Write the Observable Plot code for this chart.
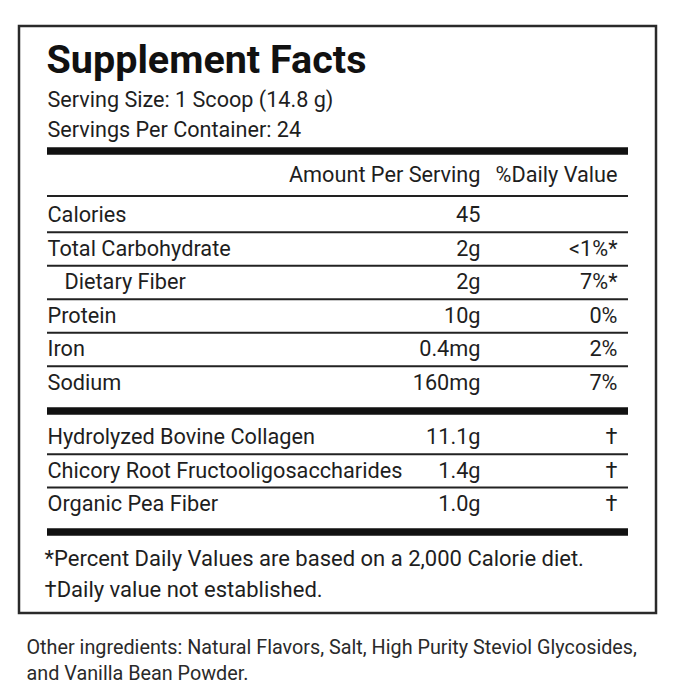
<!DOCTYPE html>
<html><head><meta charset="utf-8">
<script src="https://cdn.jsdelivr.net/npm/d3@7"></script>
<script src="https://cdn.jsdelivr.net/npm/@observablehq/plot@0.6"></script>
<style>body{margin:0;background:#fff}</style>
</head><body><div id="chart"></div>
<script>
// ---- data ----
const title = "Supplement Facts";
const headerLines = ["Serving Size: 1 Scoop (14.8 g)", "Servings Per Container: 24"];
const columnHeaders = ["Amount Per Serving", "%Daily Value"];
const nutrients = ["Calories", "Total Carbohydrate", "Dietary Fiber", "Protein", "Iron", "Sodium"];
const nutrientAmounts = ["45", "2g", "2g", "10g", "0.4mg", "160mg"];
const nutrientDV = ["", "<1%*", "7%*", "0%", "2%", "7%"];
const nutrientIndent = [0, 0, 1, 0, 0, 0];
const blendItems = ["Hydrolyzed Bovine Collagen", "Chicory Root Fructooligosaccharides", "Organic Pea Fiber"];
const blendAmounts = ["11.1g", "1.4g", "1.0g"];
const blendDV = ["†", "†", "†"];
const footnotes = ["*Percent Daily Values are based on a 2,000 Calorie diet.", "†Daily value not established."];
const otherIngredients = ["Other ingredients: Natural Flavors, Salt, High Purity Steviol Glycosides,", "and Vanilla Bean Powder."];

// ---- layout ----
const L = {
  boxX1: 19, boxX2: 656, boxY1: 26, boxY2: 613,
  left: 47, right: 628, indent: 17, amountX: 480, dvX: 617,
  titleY: 60, headerY0: 100, headerStep: 30, colHeadY: 175, colRuleY: 195.5,
  rowY0: 215, rowStep: 33.5, blendY0: 437, blendStep: 33.3,
  thickY: [150.5, 410.5, 531.5], footY0: 558, footStep: 31,
  otherX: 26, otherY0: 647, otherStep: 26
};
const ink = "#1e1e1e";
const font = "Roboto";
const body = 21.7;

const rows = nutrients.map((name, i) => ({
  name, amount: nutrientAmounts[i], dv: nutrientDV[i],
  x: L.left + nutrientIndent[i] * L.indent, y: L.rowY0 + i * L.rowStep
}));
const rowRules = rows.slice(0, -1).map(r => ({y: r.y + L.rowStep / 2}));
const blend = blendItems.map((name, i) => ({
  name, amount: blendAmounts[i], dv: blendDV[i], x: L.left, y: L.blendY0 + i * L.blendStep
}));
const blendRules = blend.slice(0, -1).map(r => ({y: r.y + L.blendStep / 2}));
const header = headerLines.map((t, i) => ({t, y: L.headerY0 + i * L.headerStep}));
const feet = footnotes.map((t, i) => ({t, y: L.footY0 + i * L.footStep}));
const other = otherIngredients.map((t, i) => ({t, y: L.otherY0 + i * L.otherStep}));

const txt = (data, opts) => Plot.text(data, {fontFamily: font, fill: ink, fontSize: body, lineAnchor: "middle", ...opts});

const chart = Plot.plot({
  width: 680, height: 699, margin: 0,
  x: {domain: [0, 680], range: [0, 680], axis: null},
  y: {domain: [0, 699], range: [0, 699], axis: null},
  marks: [
    Plot.rect([L], {x1: "boxX1", x2: "boxX2", y1: "boxY1", y2: "boxY2", fill: "none", stroke: "#2a2a2a", strokeWidth: 2.5}),
    txt([title], {x: L.left - 1, y: L.titleY, text: d => d, textAnchor: "start", fontSize: 39.5, fontWeight: "bold", fill: "#111"}),
    txt(header, {x: L.left, y: "y", text: "t", textAnchor: "start", fontSize: 21.6}),
    Plot.ruleY(L.thickY, {x1: L.left, x2: L.right, stroke: "#111", strokeWidth: 7.5}),
    txt([columnHeaders[0]], {x: L.amountX, y: L.colHeadY, text: d => d, textAnchor: "end"}),
    txt([columnHeaders[1]], {x: L.dvX, y: L.colHeadY, text: d => d, textAnchor: "end"}),
    Plot.ruleY([L.colRuleY], {x1: L.left, x2: L.right, stroke: "#222", strokeWidth: 2}),
    Plot.ruleY(rowRules, {y: "y", x1: L.left, x2: L.right, stroke: "#222", strokeWidth: 2}),
    Plot.ruleY(blendRules, {y: "y", x1: L.left, x2: L.right, stroke: "#222", strokeWidth: 2}),
    txt(rows, {x: "x", y: "y", text: "name", textAnchor: "start"}),
    txt(rows, {x: L.amountX, y: "y", text: "amount", textAnchor: "end"}),
    txt(rows, {x: L.dvX, y: "y", text: "dv", textAnchor: "end"}),
    txt(blend, {x: "x", y: "y", text: "name", textAnchor: "start"}),
    txt(blend, {x: L.amountX, y: "y", text: "amount", textAnchor: "end"}),
    txt(blend, {x: L.dvX, y: "y", text: "dv", textAnchor: "end"}),
    txt(feet, {x: L.left - 3, y: "y", text: "t", textAnchor: "start", fontSize: 22}),
    txt(other, {x: L.otherX, y: "y", text: "t", textAnchor: "start", fontSize: 19.8, fill: "#2a2a2a"})
  ]
});
document.getElementById("chart").appendChild(chart);
</script>
</body></html>
